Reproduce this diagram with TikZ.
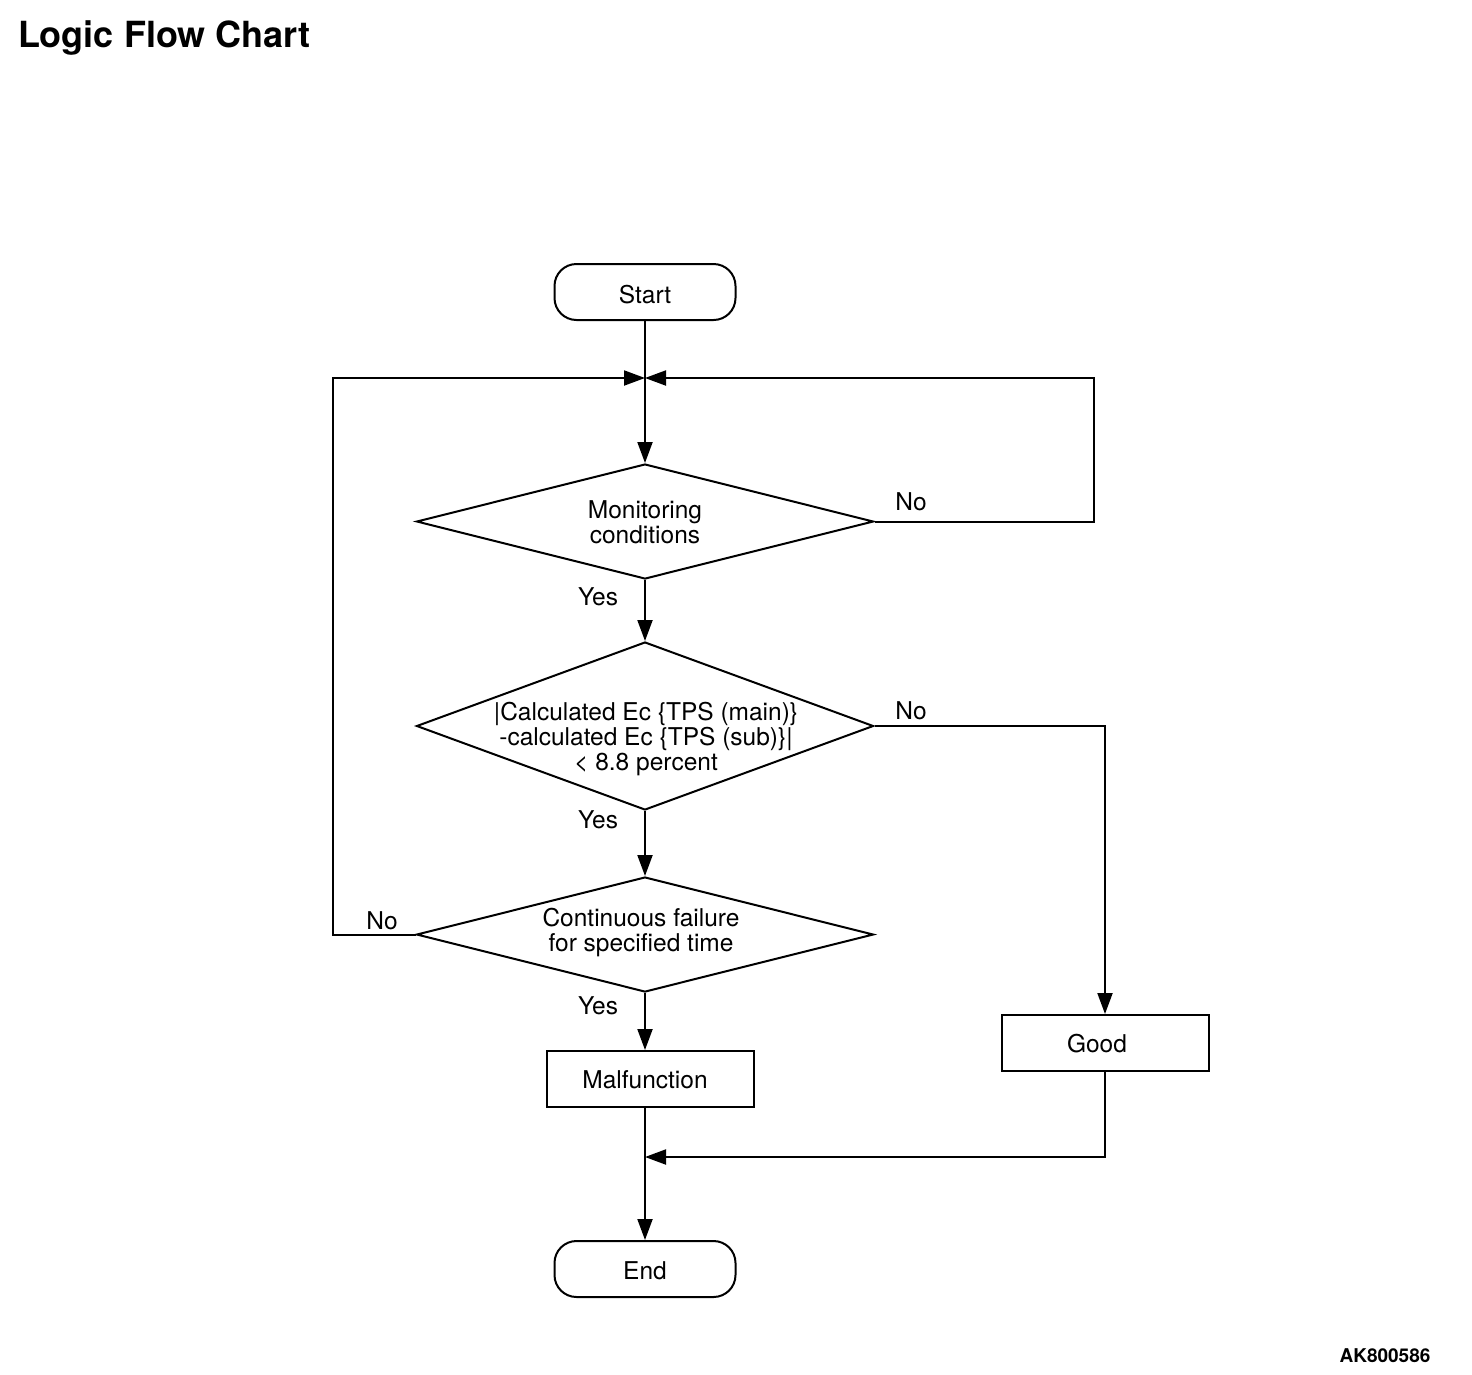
\documentclass[tikz,border=0pt]{standalone}
\usepackage{fontspec}
\setmainfont{TeX Gyre Heros}
\usetikzlibrary{shapes.geometric,arrows.meta}
\begin{document}
\begin{tikzpicture}[x=1pt,y=-1pt,
  line width=2pt,
  every node/.style={font=\fontsize{24.5}{25}\selectfont, inner sep=0pt},
  term/.style={draw, rounded corners=22pt, minimum width=181pt, minimum height=56pt},
  proc/.style={draw, minimum width=207pt, minimum height=56pt},
  dia/.style={draw, diamond, minimum width=457pt},
  lbl/.style={anchor=base},
  arr/.style={-{Triangle[length=21pt,width=15pt]}}
]
\useasboundingbox (0,0) rectangle (1472,1374);
\node[anchor=base west, font=\fontsize{36}{40}\selectfont\bfseries] (title) at (17,47) {Logic Flow Chart};
\node[anchor=base, font=\fontsize{19}{20}\selectfont\bfseries] (code) at (1385,1362) {AK800586};

\node[term] (start) at (645,292) {};
\node (starttxt) at (645,295) {Start};
\coordinate (j) at (645,378);
\node[dia, minimum height=115pt] (d1) at (645,521.5) {};
\node[align=center] (d1t) at (645,522) {Monitoring\\conditions};
\node[dia, minimum height=168pt] (d2) at (645,726) {};
\node[align=center] (d2t) at (646,739) {|Calculated Ec \{TPS (main)\}\\-calculated Ec \{TPS (sub)\}|\\< 8.8 percent};
\node[dia, minimum height=115pt] (d3) at (645,934.5) {};
\node[align=center] (d3t) at (641,933) {Continuous failure\\for specified time};
\node[proc] (mal) at (650.5,1079) {};
\node (maltxt) at (645,1080) {Malfunction};
\node[proc] (good) at (1105,1043) {};
\node (goodtxt) at (1097,1044) {Good};
\coordinate (m) at (645,1157);
\node[term] (end) at (645,1269) {};
\node (endtxt) at (645,1271) {End};

\node[lbl] (n1) at (911,510) {No};
\node[lbl] (y1) at (598,605) {Yes};
\node[lbl] (n2) at (911,719) {No};
\node[lbl] (y2) at (598,828) {Yes};
\node[lbl] (n3) at (382,929) {No};
\node[lbl] (y3) at (598,1014) {Yes};

\draw (start.south) -- (j);
\draw[arr] (d3.west) -- (333,934.5) -- (333,378) -- (j);
\draw[arr] (d1.east) -- (1094,521.5) -- (1094,378) -- (j);
\draw[arr] (j) -- (d1.north);
\draw[arr] (d1.south) -- (d2.north);
\draw[arr] (d2.south) -- (d3.north);
\draw[arr] (d3.south) -- (d3.south |- mal.north);
\draw[arr] (d2.east) -- (good.north |- d2.east) -- (good.north);
\draw[arr] (good.south) -- (good.south |- m) -- (m);
\draw[arr] (mal.south -| m) -- (end.north);
\end{tikzpicture}
\end{document}
